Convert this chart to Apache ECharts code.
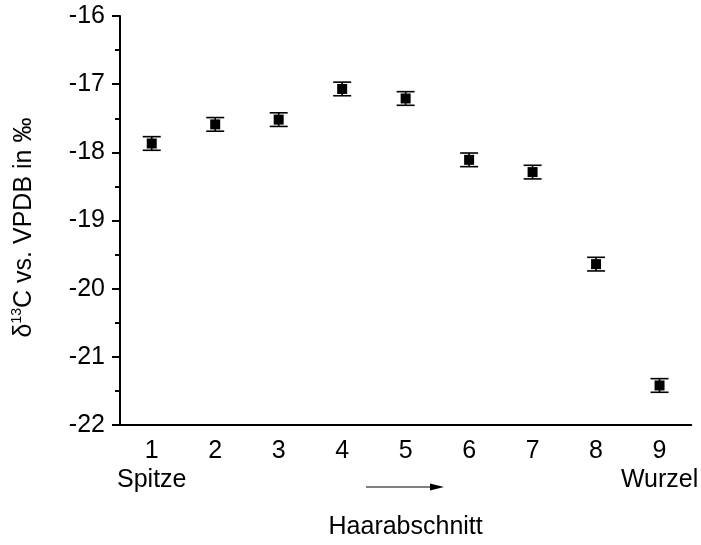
<!DOCTYPE html>
<html>
<head>
<meta charset="utf-8">
<script src="https://cdn.jsdelivr.net/npm/echarts@6/dist/echarts.min.js"></script>
<style>html,body{margin:0;padding:0;background:#fff;}#c{width:701px;height:545px;}</style>
</head>
<body>
<div id="c"></div>
<script>
var categories = ['1','2','3','4','5','6','7','8','9'];
var values = [-17.87, -17.59, -17.52, -17.07, -17.21, -18.11, -18.29, -19.64, -21.42];
var errors = [0.10, 0.10, 0.10, 0.10, 0.10, 0.10, 0.10, 0.10, 0.10];
var yTicks = [-22, -21, -20, -19, -18, -17, -16];
var edgeLabels = {'1': 'Spitze', '9': 'Wurzel'};

var FONT = '"Liberation Sans", Arial, sans-serif';
var FS = 25;
var chart = echarts.init(document.getElementById('c'), null, {renderer: 'canvas'});

var errData = values.map(function (v, i) { return [i, v - errors[i], v + errors[i]]; });

chart.setOption({
  animation: false,
  backgroundColor: '#fff',
  grid: {left: 120, top: 16, right: 6, bottom: 114, containLabel: false},
  xAxis: {
    type: 'category',
    data: categories,
    boundaryGap: true,
    name: 'Haarabschnitt',
    nameLocation: 'middle',
    nameGap: 90,
    nameTextStyle: {fontFamily: FONT, fontSize: FS, color: '#000'},
    axisLine: {lineStyle: {color: '#000', width: 2}},
    axisTick: {alignWithLabel: true, length: 8, lineStyle: {color: '#000', width: 2}},
    axisLabel: {
      fontFamily: FONT, fontSize: FS, color: '#000', margin: 12, lineHeight: 29,
      interval: 0,
      formatter: function (v) { return edgeLabels[v] ? v + '\n' + edgeLabels[v] : v; }
    },
    splitLine: {show: false}
  },
  yAxis: {
    type: 'value',
    min: yTicks[0],
    max: yTicks[yTicks.length - 1],
    interval: 1,
    name: '{a|δ}{sup|13}{a|C vs. VPDB in ‰}',
    nameLocation: 'middle',
    nameGap: 82,
    nameRotate: 90,
    nameTextStyle: {
      fontFamily: FONT, fontSize: FS, color: '#000',
      padding: [0, 14, 0, 0],
      rich: {
        a: {fontFamily: FONT, fontSize: FS, color: '#000'},
        sup: {fontFamily: FONT, fontSize: 14, color: '#000', padding: [0, 0, 14, 0]}
      }
    },
    axisLine: {show: true, lineStyle: {color: '#000', width: 2}},
    axisTick: {show: true, length: 8, lineStyle: {color: '#000', width: 2}},
    minorTick: {show: true, splitNumber: 2, length: 5, lineStyle: {color: '#000', width: 2}},
    axisLabel: {fontFamily: FONT, fontSize: FS, color: '#000', margin: 15},
    splitLine: {show: false}
  },
  graphic: [
    {
      type: 'line',
      shape: {x1: 366, y1: 487, x2: 432, y2: 487},
      style: {stroke: '#555', lineWidth: 1.5}
    },
    {
      type: 'polygon',
      shape: {points: [[444, 487], [430, 483.5], [430, 490.5]]},
      style: {fill: '#000'}
    }
  ],
  series: [
    {
      type: 'custom',
      data: errData,
      encode: {x: 0, y: [1, 2]},
      renderItem: function (params, api) {
        var x = api.value(0);
        var lo = api.coord([x, api.value(1)]);
        var hi = api.coord([x, api.value(2)]);
        var hw = 9;
        var st = {stroke: '#000', lineWidth: 1.6};
        return {
          type: 'group',
          children: [
            {type: 'line', shape: {x1: lo[0], y1: lo[1], x2: hi[0], y2: hi[1]}, style: st},
            {type: 'line', shape: {x1: lo[0] - hw, y1: lo[1], x2: lo[0] + hw, y2: lo[1]}, style: st},
            {type: 'line', shape: {x1: hi[0] - hw, y1: hi[1], x2: hi[0] + hw, y2: hi[1]}, style: st}
          ]
        };
      },
      z: 2
    },
    {
      type: 'scatter',
      data: values,
      symbol: 'rect',
      symbolSize: 10,
      itemStyle: {color: '#000', opacity: 1},
      z: 3
    }
  ]
});
</script>
</body>
</html>
